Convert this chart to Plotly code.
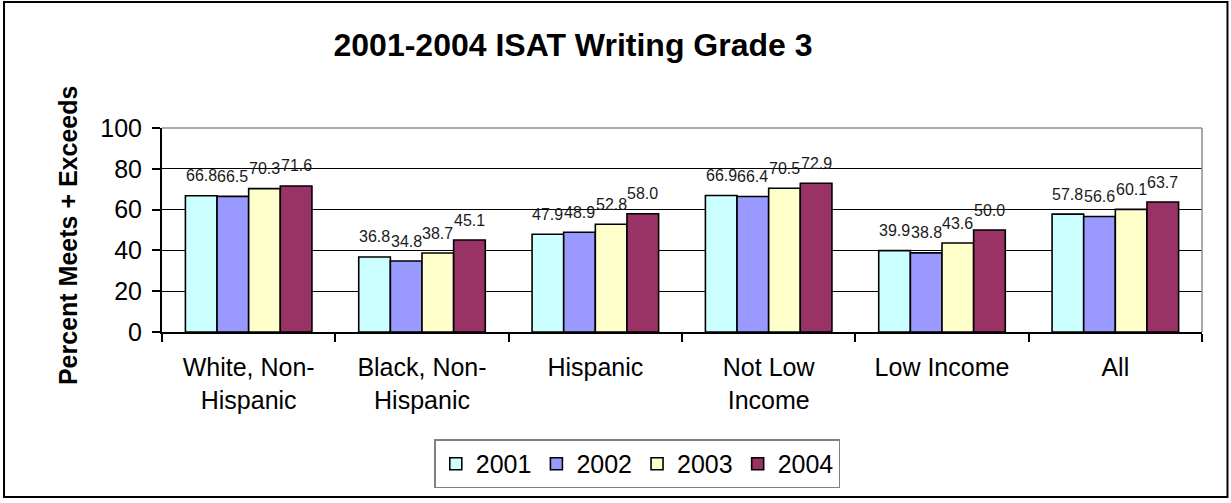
import plotly.graph_objects as go

# ISAT Writing, Grade 3: percent of students meeting or exceeding standards
groups = ["White, Non-<br>Hispanic", "Black, Non-<br>Hispanic", "Hispanic",
          "Not Low<br>Income", "Low Income", "All"]
years = ["2001", "2002", "2003", "2004"]
pct_2001 = [66.8, 36.8, 47.9, 66.9, 39.9, 57.8]
pct_2002 = [66.5, 34.8, 48.9, 66.4, 38.8, 56.6]
pct_2003 = [70.3, 38.7, 52.8, 70.5, 43.6, 60.1]
pct_2004 = [71.6, 45.1, 58.0, 72.9, 50.0, 63.7]
y_ticks = [0, 20, 40, 60, 80, 100]

series = [pct_2001, pct_2002, pct_2003, pct_2004]
colors = ["#CCFFFF", "#9999FF", "#FFFFCC", "#993366"]

FONT = "Arial, Liberation Sans, sans-serif"
BARGAP = 0.27
bar_w = (1 - BARGAP) / len(years)

fig = go.Figure()
for yr, vals, col in zip(years, series, colors):
    fig.add_trace(go.Bar(
        name=yr, x=groups, y=vals,
        marker=dict(color=col, line=dict(color="#000000", width=1.6)),
    ))

# value labels above each bar
annotations = []
for j, vals in enumerate(series):
    offset = (j - (len(years) - 1) / 2) * bar_w
    for i, v in enumerate(vals):
        annotations.append(dict(
            x=i + offset, y=v, xref="x", yref="y",
            text=f"{v:.1f}", showarrow=False,
            yanchor="middle", yshift=20,
            font=dict(family=FONT, size=16, color="#1a1a1a"),
        ))

# y-axis title
annotations.append(dict(
    x=-0.0904, y=0.475, xref="paper", yref="paper",
    text="<b>Percent Meets + Exceeds</b>", textangle=-90, showarrow=False,
    xanchor="center", yanchor="middle",
    font=dict(family=FONT, size=25, color="#000000"),
))

shapes = [
    # outer chart frame
    dict(type="rect", xref="paper", yref="paper",
         x0=-0.1519, x1=1.0245, y0=-0.809, y1=1.618,
         line=dict(color="#000000", width=2), layer="below"),
    # grey top and right edges of the plot area
    dict(type="line", xref="paper", yref="paper", x0=0, x1=1, y0=1, y1=1,
         line=dict(color="#8c8c8c", width=1.5), layer="above"),
    dict(type="line", xref="paper", yref="paper", x0=1, x1=1, y0=0, y1=1,
         line=dict(color="#8c8c8c", width=1.5), layer="above"),
]

fig.update_layout(
    width=1231, height=503,
    margin=dict(l=162, r=29, t=128, b=171),
    paper_bgcolor="#ffffff", plot_bgcolor="#ffffff",
    barmode="group", bargap=BARGAP, bargroupgap=0,
    font=dict(family=FONT, color="#000000"),
    title=dict(
        text="<b>2001-2004 ISAT Writing Grade 3</b>",
        x=0.4655, xref="container", xanchor="center",
        y=0.9105, yref="container", yanchor="middle",
        font=dict(family=FONT, size=32, color="#000000"),
    ),
    xaxis=dict(
        showline=True, linecolor="#000000", linewidth=2,
        ticks="outside", tickson="boundaries", ticklen=8, tickcolor="#000000",
        tickwidth=1.5, showgrid=False, ticklabelstandoff=12,
        tickfont=dict(family=FONT, size=25, color="#000000"),
    ),
    yaxis=dict(
        range=[0, 100], tickvals=y_ticks,
        showline=True, linecolor="#000000", linewidth=2,
        ticks="outside", ticklen=8, tickcolor="#000000", tickwidth=1.5,
        showgrid=True, gridcolor="#000000", gridwidth=1,
        zeroline=False, ticklabelstandoff=5,
        tickfont=dict(family=FONT, size=25, color="#000000"),
    ),
    legend=dict(
        orientation="h", x=0.457, y=-0.647, xanchor="center", yanchor="middle",
        bordercolor="#7f7f7f", borderwidth=1.5, bgcolor="#ffffff",
        font=dict(family=FONT, size=25, color="#000000"),
        itemwidth=30, tracegroupgap=0,
    ),
    annotations=annotations,
    shapes=shapes,
    showlegend=True,
)

fig.write_html("out.html")
